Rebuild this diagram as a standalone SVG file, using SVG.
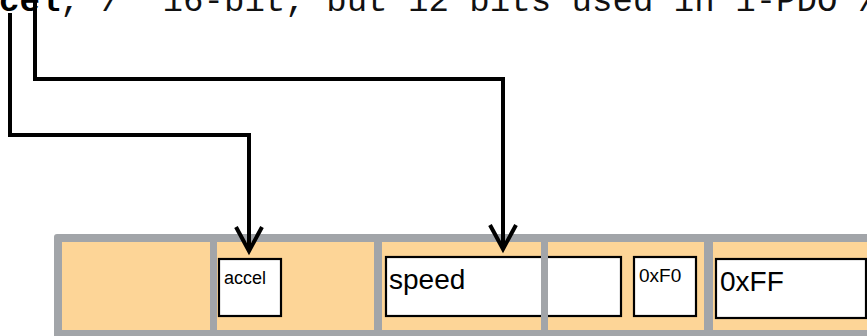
<svg xmlns="http://www.w3.org/2000/svg" width="867" height="336" viewBox="0 0 867 336">
<style>
.code{font-family:"Liberation Mono","Courier New",monospace;font-size:34.1px;fill:#111}
.lbl{font-family:"Liberation Sans",Arial,sans-serif;fill:#000}
.box{fill:#fff;stroke:#000;stroke-width:2.2}
.conn{fill:none;stroke:#000;stroke-width:4;stroke-linejoin:miter}
.grid{fill:#a2a5a9}
</style>
<defs>
<marker id="arr" markerUnits="userSpaceOnUse" viewBox="-30 -18 36 36" markerWidth="36" markerHeight="36" refX="0" refY="0" orient="auto">
<path d="M-24,-13 L0,0 L-24,13" fill="none" stroke="#000" stroke-width="4" stroke-linejoin="miter"/>
</marker>
</defs>
<rect width="867" height="336" fill="#fff"/>
<text class="code" x="-1" y="11"><tspan font-weight="bold" fill="#000">cel</tspan>, /* 16-bit, but 12 bits used in 1-PDO*/</text>
<g id="frame">
<rect class="grid" x="54" y="234" width="830" height="110" rx="3"/>
<rect x="62" y="242" width="820" height="88" fill="#fdd597"/>
</g>
<g id="accel">
<rect class="box" x="219" y="259" width="62" height="57"/>
<text class="lbl" x="224" y="284" font-size="18">accel</text>
</g>
<g id="speed">
<rect class="box" x="386" y="257" width="235" height="59"/>
<text class="lbl" x="389" y="289" font-size="28">speed</text>
</g>
<g id="f0">
<rect class="box" x="634" y="257" width="62" height="59"/>
<text class="lbl" x="639" y="282" font-size="19">0xF0</text>
</g>
<g id="ff">
<rect class="box" x="716" y="259" width="150" height="59"/>
<text class="lbl" x="720" y="291" font-size="28">0xFF</text>
</g>
<g id="dividers">
<rect class="grid" x="210" y="234" width="7" height="102"/>
<rect class="grid" x="374" y="234" width="8" height="102"/>
<rect class="grid" x="541" y="234" width="7" height="102"/>
<rect class="grid" x="704" y="234" width="9" height="102"/>
</g>
<g id="connectors">
<path class="conn" d="M10,13 V135 H249 V251" marker-end="url(#arr)"/>
<path class="conn" d="M35,0 V79 H503 V249" marker-end="url(#arr)"/>
</g>
</svg>
